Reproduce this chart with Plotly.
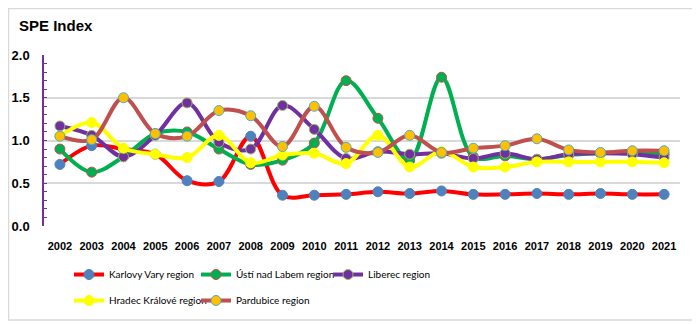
import plotly.graph_objects as go

years = list(range(2002, 2022))

karlovy_vary = [0.72, 0.94, 0.90, 0.84, 0.53, 0.52, 1.05, 0.36, 0.36, 0.37,
                0.40, 0.38, 0.41, 0.37, 0.37, 0.38, 0.37, 0.38, 0.37, 0.37]
usti = [0.90, 0.63, 0.81, 1.08, 1.10, 0.90, 0.72, 0.77, 0.97, 1.70,
        1.26, 0.77, 1.74, 0.81, 0.82, 0.78, 0.83, 0.85, 0.86, 0.84]
liberec = [1.17, 1.06, 0.81, 1.06, 1.44, 0.98, 0.90, 1.41, 1.13, 0.79,
           0.87, 0.84, 0.85, 0.79, 0.85, 0.78, 0.84, 0.85, 0.84, 0.80]
hradec = [1.05, 1.21, 0.91, 0.84, 0.80, 1.06, 0.74, 0.83, 0.85, 0.73,
          1.06, 0.69, 0.87, 0.69, 0.69, 0.75, 0.75, 0.75, 0.75, 0.74]
pardubice = [1.05, 1.01, 1.50, 1.08, 1.05, 1.35, 1.29, 0.93, 1.40, 0.92,
             0.86, 1.06, 0.86, 0.91, 0.94, 1.02, 0.89, 0.86, 0.88, 0.88]

y_ticks = [0, 0.5, 1.0, 1.5, 2.0]

# name, values, line colour, marker fill, marker edge
series = [
    ("Karlovy Vary region", karlovy_vary, "#FF0000", "#4F81BD", "#4F81BD"),
    ("Ústí nad Labem region", usti, "#00B050", "#00B050", "#C0504D"),
    ("Liberec region", liberec, "#7030A0", "#7030A0", "#9BBB59"),
    ("Hradec Králové region", hradec, "#FFFF00", "#FFFF00", "#FFFF00"),
    ("Pardubice region", pardubice, "#C0504D", "#FFC000", "#4BACC6"),
]

# one legend per entry so the two-row layout sits like the original
legend_ids = ["legend", "legend2", "legend3", "legend4", "legend5"]
legend_xy = [(0.0393, -0.199), (0.2390, -0.199), (0.4466, -0.199),
             (0.0393, -0.351), (0.2390, -0.351)]

fig = go.Figure()
for (name, vals, line_c, fill_c, edge_c), leg in zip(series, legend_ids):
    fig.add_trace(go.Scatter(
        x=years, y=vals, name=name, mode="lines+markers", legend=leg,
        line=dict(color=line_c, width=4, shape="spline", smoothing=1),
        marker=dict(size=10, color=fill_c, line=dict(color=edge_c, width=1)),
    ))

# light frame round the whole chart
fig.add_shape(type="rect", xref="paper", yref="paper",
              x0=(0.5 - 36) / 636, x1=(688 - 36) / 636,
              y0=(218 - 312) / 171, y1=(218 - 0.5) / 171,
              line=dict(color="#D9D9D9", width=1.5), fillcolor="rgba(0,0,0,0)")

legend_font = dict(size=10, family="Lato, Liberation Sans")
legends = {}
for leg, (lx, ly) in zip(legend_ids, legend_xy):
    legends[leg] = dict(orientation="h", x=lx, y=ly, xanchor="left", yanchor="top",
                        font=legend_font, itemwidth=30, bgcolor="rgba(0,0,0,0)")

fig.update_layout(
    width=700, height=324,
    margin=dict(l=36, r=28, t=47, b=106),
    paper_bgcolor="white", plot_bgcolor="white",
    font=dict(family="Liberation Sans, Arial", color="#000000"),
    title=dict(text="<b>SPE Index</b>", x=11 / 700, xanchor="left",
               y=1 - 18 / 324, yanchor="middle", font=dict(size=15)),
    showlegend=True,
    xaxis=dict(range=[2001.5, 2021.5], tickmode="array", tickvals=years,
               ticktext=["<b>%d</b>" % y for y in years], tickfont=dict(size=11),
               showgrid=False, showline=False, zeroline=False, ticks="",
               ticklabelstandoff=12, automargin=False),
    yaxis=dict(range=[0, 2.0], tickvals=y_ticks,
               ticktext=["<b>%.1f</b>" % v for v in y_ticks],
               tickfont=dict(size=13), showgrid=True, gridcolor="#D9D9D9",
               gridwidth=1.5, zeroline=False, showline=True, linecolor="#7030A0",
               linewidth=1.5, ticks="inside", ticklen=3, tickcolor="#7030A0",
               minor=dict(dtick=0.1, ticks="inside", ticklen=3, tickcolor="#7030A0",
                          showgrid=False),
               ticklabelstandoff=10, automargin=False),
    **legends,
)

fig.write_html("out.html")
